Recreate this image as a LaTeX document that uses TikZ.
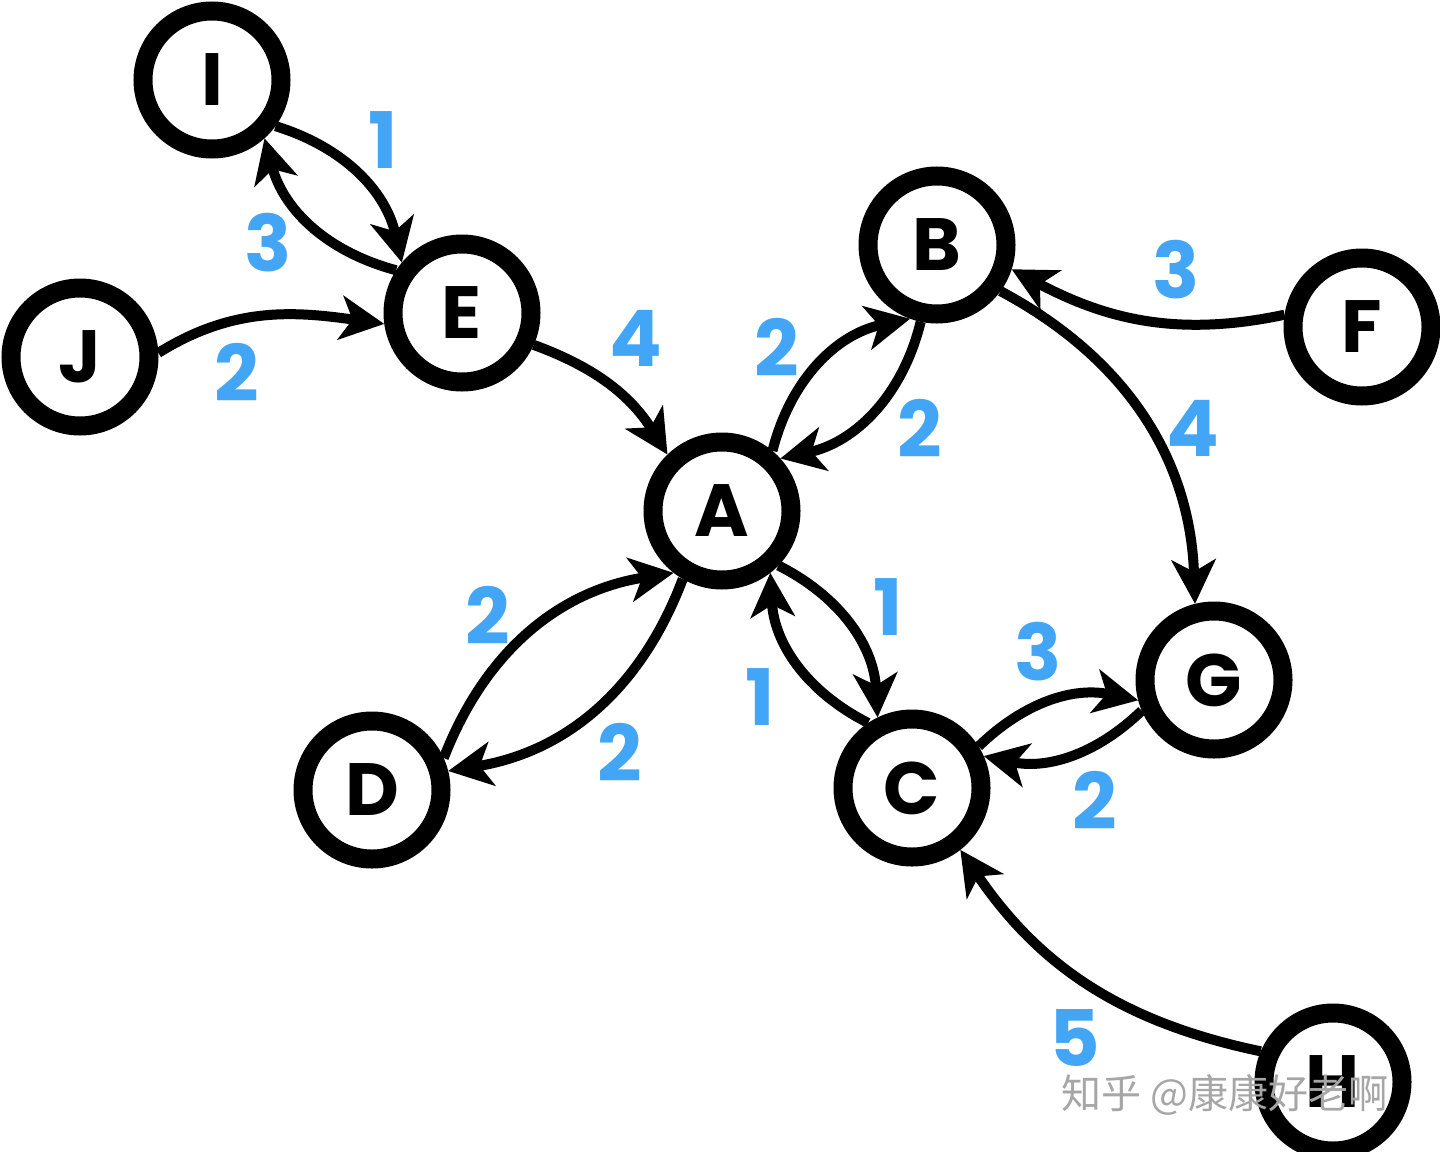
\documentclass[tikz,border=0pt]{standalone}
\usepackage{fontspec}
\usetikzlibrary{arrows.meta}
\newfontfamily\labfont{Poppins}
\newfontfamily\cjkfont{Noto Sans CJK SC}
\definecolor{wblue}{RGB}{66,165,245}
\begin{document}
\begin{tikzpicture}[x=1pt,y=-1pt,
  vert/.style={circle,draw=black,fill=white,line width=19pt,minimum size=138pt,inner sep=0pt,
    font=\labfont\bfseries\fontsize{74}{74}\selectfont},
  wlab/.style={text=wblue,font=\labfont\bfseries\fontsize{78}{78}\selectfont,inner sep=0pt},
  arc/.style={line width=10pt,-{Stealth[length=44pt,width=44pt,inset=12pt]}},
  wmark/.style={text=black!35,font=\cjkfont\fontsize{40}{40}\selectfont,inner sep=0pt}]
\useasboundingbox (0,0) rectangle (1440,1151);
% vertices
\node[vert] (I) at (212,80) {I};
\node[vert] (E) at (462,313) {E};
\node[vert] (J) at (80,357) {J};
\node[vert] (A) at (722,511) {A};
\node[vert] (B) at (937,245) {B};
\node[vert] (F) at (1362,327) {F};
\node[vert] (G) at (1214,680) {G};
\node[vert] (C) at (912,788) {C};
\node[vert] (D) at (372,790) {D};
\node[vert] (H) at (1333,1082) {H};
% edges
\draw[arc] (I.-36) to[bend left=30] (E.140);
\draw[arc] (E.147) to[bend left=30] (I.-48);
\draw[arc] (J.3) to[out=32,in=172] (E.188);
\draw[arc] (E.-24) to[out=-20,in=122] (A.134);
\draw[arc] (A.50) to[bend left=32] (B.250);
\draw[arc] (B.258) to[bend left=32] (A.42);
\draw[arc] (F.171) to[out=192,in=-28] (B.-18);
\draw[arc] (B.-36) to[bend left=30] (G.104);
\draw[arc] (A.-44) to[bend left=30] (C.116);
\draw[arc] (C.124) to[bend left=30] (A.-52);
\draw[arc] (D.24) to[bend left=30] (A.-128);
\draw[arc] (A.-120) to[bend left=30] (D.14);
\draw[arc] (C.32) to[bend left=28] (G.-165);
\draw[arc] (G.-157) to[bend left=28] (C.24);
\draw[arc] (H.157) to[bend left=22] (C.-52);
% weights
\node[wlab] (wIE) at (383,140) {1};
\node[wlab] (wEI) at (268,243) {3};
\node[wlab] (wJE) at (237,372) {2};
\node[wlab] (wEA) at (636,338) {4};
\node[wlab] (wAB) at (777,347) {2};
\node[wlab] (wBA) at (920,428) {2};
\node[wlab] (wFB) at (1176,270) {3};
\node[wlab] (wBG) at (1193,428) {4};
\node[wlab] (wAC) at (888,607) {1};
\node[wlab] (wCA) at (760,697) {1};
\node[wlab] (wDA) at (488,615) {2};
\node[wlab] (wAD) at (620,752) {2};
\node[wlab] (wCG) at (1038,652) {3};
\node[wlab] (wGC) at (1095,800) {2};
\node[wlab] (wHC) at (1075,1038) {5};
% watermark
\node[wmark] (wm) at (1225,1095) {知乎 @康康好老啊};
\end{tikzpicture}
\end{document}
